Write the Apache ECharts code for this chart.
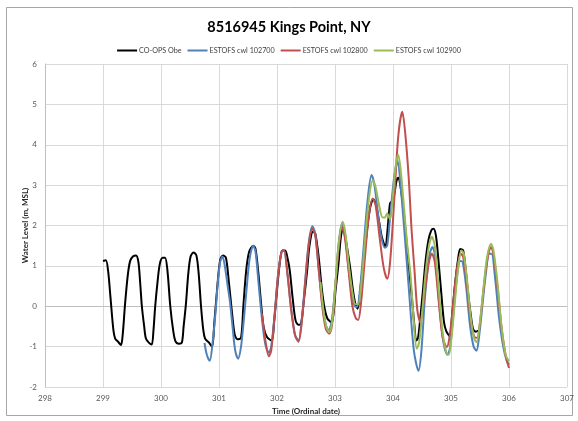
<!DOCTYPE html>
<html>
<head>
<meta charset="utf-8">
<script src="https://cdn.jsdelivr.net/npm/echarts@6/dist/echarts.min.js"></script>
<style>
  html, body { margin: 0; padding: 0; background: #fff; }
  #chart { width: 578px; height: 421px; }
</style>
</head>
<body>
<div id="chart"></div>
<script>
// x = ordinal date, y = water level (m, MSL)
const seriesNames = ['CO-OPS Obe', 'ESTOFS cwl 102700', 'ESTOFS cwl 102800', 'ESTOFS cwl 102900'];
const seriesColors = ['#000000', '#4F81BD', '#C0504D', '#9BBB59'];

const obs = [
  [299.00,1.12],[299.05,1.14],[299.09,0.85],[299.13,0.2],[299.18,-0.6],[299.21,-0.8],[299.26,-0.88],[299.31,-0.96],
  [299.34,-0.7],[299.38,0.05],[299.43,0.8],[299.47,1.13],[299.52,1.24],[299.57,1.26],[299.61,1.1],[299.64,0.6],
  [299.67,0.0],[299.71,-0.5],[299.74,-0.8],[299.79,-0.9],[299.84,-0.95],[299.87,-0.6],[299.90,0.0],[299.94,0.6],
  [299.98,1.05],[300.03,1.2],[300.07,1.2],[300.11,0.9],[300.16,0.0],[300.21,-0.6],[300.25,-0.87],[300.31,-0.93],
  [300.36,-0.9],[300.39,-0.5],[300.43,0.06],[300.47,0.8],[300.51,1.23],[300.56,1.33],[300.61,1.26],[300.65,0.8],
  [300.69,0.0],[300.73,-0.6],[300.76,-0.8],[300.82,-0.89],[300.88,-1.0],[300.92,-0.4],[300.97,0.47],[301.02,1.15],
  [301.07,1.26],[301.12,1.2],[301.17,0.6],[301.22,-0.1],[301.27,-0.7],[301.32,-0.82],[301.38,-0.78],[301.42,0.0],
  [301.47,0.9],[301.52,1.35],[301.59,1.5],[301.63,1.42],[301.68,0.8],[301.73,0.0],[301.77,-0.52],[301.83,-0.77],
  [301.91,-0.85],[301.95,-0.4],[302.00,0.39],[302.05,1.1],[302.09,1.38],[302.14,1.38],[302.18,1.2],[302.22,0.89],
  [302.27,0.2],[302.32,-0.35],[302.37,-0.46],[302.41,-0.45],[302.46,0.1],[302.52,0.89],[302.56,1.5],[302.62,1.85],
  [302.66,1.8],[302.72,1.2],[302.77,0.47],[302.82,-0.05],[302.87,-0.31],[302.92,-0.38],[302.95,-0.4],[303.01,0.4],
  [303.06,1.05],[303.10,1.7],[303.14,1.95],[303.18,1.7],[303.26,0.97],[303.30,0.5],[303.35,0.06],[303.39,-0.06],
  [303.45,0.6],[303.52,1.47],[303.60,2.4],[303.66,2.65],[303.70,2.55],[303.76,2.1],[303.81,1.7],[303.87,1.47],
  [303.90,1.8],[303.93,2.3],[303.95,2.55],[303.98,2.6],[304.02,2.75],[304.06,3.1],[304.09,3.18],[304.13,2.96],
  [304.18,2.4],[304.24,1.5],[304.28,0.9],[304.33,0.14],[304.37,-0.5],[304.40,-0.85],[304.43,-0.8],[304.47,-0.3],
  [304.51,0.3],[304.56,1.1],[304.61,1.63],[304.66,1.88],[304.70,1.92],[304.74,1.75],[304.78,1.2],[304.84,0.2],
  [304.88,-0.4],[304.92,-0.62],[304.98,-0.75],[305.02,-0.2],[305.07,0.56],[305.12,1.15],[305.16,1.42],[305.21,1.38],
  [305.25,0.95],[305.29,0.39],[305.34,-0.2],[305.38,-0.56],[305.43,-0.63],[305.47,-0.6]
];

const cwl102700 = [
  [300.75,-0.91],[300.79,-1.2],[300.84,-1.35],[300.89,-0.9],[300.94,-0.15],[300.98,0.6],[301.02,1.1],[301.06,1.23],
  [301.10,1.0],[301.15,0.5],[301.19,0.1],[301.24,-0.6],[301.28,-1.1],[301.33,-1.3],[301.38,-1.0],[301.43,-0.3],
  [301.48,0.5],[301.53,1.2],[301.59,1.5],[301.63,1.35],[301.68,0.6],[301.74,-0.3],[301.80,-0.95],[301.86,-1.15],
  [301.90,-1.0],[301.96,-0.2],[302.02,0.8],[302.08,1.35],[302.12,1.38],[302.18,0.8],[302.24,0.0],[302.31,-0.7],
  [302.37,-0.85],[302.43,-0.3],[302.49,0.7],[302.55,1.6],[302.61,1.98],[302.66,1.8],[302.72,0.9],[302.78,0.1],
  [302.84,-0.45],[302.89,-0.6],[302.94,-0.4],[303.00,0.4],[303.06,1.5],[303.12,2.05],[303.17,1.8],[303.23,1.0],
  [303.29,0.3],[303.34,0.0],[303.38,-0.02],[303.43,0.4],[303.49,1.4],[303.56,2.6],[303.63,3.25],[303.68,3.0],
  [303.74,2.3],[303.80,1.7],[303.86,1.45],[303.90,1.5],[303.95,2.2],[304.02,3.2],[304.08,3.6],[304.13,3.0],
  [304.20,1.8],[304.28,0.3],[304.36,-1.1],[304.44,-1.6],[304.49,-1.1],[304.55,0.2],[304.62,1.2],[304.68,1.47],
  [304.73,1.2],[304.80,0.0],[304.87,-0.9],[304.94,-1.2],[304.98,-1.05],[305.04,-0.2],[305.10,0.7],[305.16,1.12],
  [305.20,1.1],[305.26,0.5],[305.33,-0.5],[305.39,-1.0],[305.44,-1.1],[305.48,-0.8],[305.54,0.0],[305.60,0.8],
  [305.66,1.3],[305.70,1.3],[305.76,0.7],[305.83,-0.3],[305.90,-1.0],[305.96,-1.35],[306.00,-1.45]
];

const cwl102800 = [
  [301.74,-0.18],[301.80,-0.85],[301.86,-1.24],[301.90,-1.1],[301.96,-0.2],[302.02,0.8],[302.08,1.35],[302.12,1.38],
  [302.18,0.8],[302.24,-0.05],[302.31,-0.72],[302.37,-0.88],[302.43,-0.35],[302.49,0.65],[302.55,1.55],[302.61,1.92],
  [302.66,1.75],[302.72,0.9],[302.78,0.0],[302.84,-0.55],[302.90,-0.68],[302.95,-0.45],[303.00,0.4],[303.06,1.4],
  [303.12,1.96],[303.17,1.7],[303.24,0.8],[303.30,0.0],[303.36,-0.3],[303.40,-0.34],[303.45,0.1],[303.51,1.1],
  [303.58,2.2],[303.65,2.67],[303.70,2.5],[303.77,1.7],[303.84,0.95],[303.90,0.68],[303.95,1.1],[304.02,2.6],
  [304.09,4.2],[304.16,4.82],[304.21,4.3],[304.27,3.2],[304.32,1.9],[304.37,0.9],[304.42,-0.1],[304.47,-0.4],
  [304.51,-0.1],[304.56,0.47],[304.62,1.1],[304.67,1.3],[304.72,1.1],[304.79,0.1],[304.86,-0.8],[304.93,-1.01],
  [304.98,-0.7],[305.04,0.1],[305.10,0.9],[305.17,1.3],[305.21,1.22],[305.27,0.6],[305.34,-0.35],[305.40,-0.75],
  [305.45,-0.78],[305.50,-0.4],[305.56,0.4],[305.63,1.2],[305.69,1.47],[305.73,1.3],[305.80,0.5],[305.87,-0.5],
  [305.94,-1.2],[306.00,-1.53]
];

const cwl102900 = [
  [302.75,0.6],[302.80,-0.1],[302.85,-0.5],[302.90,-0.64],[302.95,-0.4],[303.00,0.45],[303.06,1.5],[303.13,2.09],
  [303.18,1.8],[303.24,1.0],[303.30,0.35],[303.35,0.05],[303.40,0.05],[303.45,0.5],[303.51,1.5],[303.58,2.6],
  [303.65,3.12],[303.70,2.95],[303.76,2.5],[303.82,2.2],[303.86,2.2],[303.90,2.3],[303.95,2.15],[303.99,2.6],
  [304.04,3.4],[304.09,3.75],[304.13,3.4],[304.18,2.62],[304.24,1.6],[304.30,0.8],[304.36,-0.4],[304.41,-1.05],
  [304.45,-0.9],[304.50,-0.2],[304.56,0.8],[304.62,1.5],[304.67,1.72],[304.72,1.5],[304.79,0.4],[304.86,-0.7],
  [304.92,-1.15],[304.96,-1.2],[305.00,-0.9],[305.06,0.0],[305.12,0.9],[305.18,1.38],[305.22,1.3],[305.28,0.6],
  [305.35,-0.4],[305.40,-0.8],[305.44,-0.89],[305.49,-0.5],[305.55,0.3],[305.62,1.2],[305.69,1.55],[305.73,1.4],
  [305.80,0.6],[305.87,-0.5],[305.94,-1.2],[306.00,-1.36]
];

const seriesData = [obs, cwl102700, cwl102800, cwl102900];

const chart = echarts.init(document.getElementById('chart'));
const font = 'Lato, "Open Sans", sans-serif';

chart.setOption({
  animation: false,
  textStyle: { fontFamily: font },
  title: {
    text: '8516945 Kings Point, NY',
    left: 'center',
    top: 15,
    textStyle: { fontSize: 14.5, fontWeight: 'bold', color: '#000', fontFamily: font }
  },
  legend: {
    top: 42,
    left: 'center',
    icon: 'rect',
    itemWidth: 20,
    itemHeight: 2,
    itemGap: 6,
    textStyle: { fontSize: 7.2, color: '#404040', fontFamily: font, padding: [0, 0, 0, -3] },
    data: seriesNames
  },
  grid: { left: 45, right: 11, top: 64, bottom: 34 },
  xAxis: {
    type: 'value',
    min: 298,
    max: 307,
    interval: 1,
    name: 'Time (Ordinal date)',
    nameLocation: 'middle',
    nameGap: 20,
    nameMoveOverlap: false,
    nameTextStyle: { fontSize: 8, fontWeight: 'bold', color: '#262626' },
    axisLine: { lineStyle: { color: '#bfbfbf' } },
    axisTick: { show: false },
    axisLabel: { fontSize: 8, color: '#595959', margin: 7 },
    splitLine: { show: true, lineStyle: { color: '#d9d9d9' } }
  },
  yAxis: {
    type: 'value',
    min: -2,
    max: 6,
    interval: 1,
    name: 'Water Level (m, MSL)',
    nameLocation: 'middle',
    nameGap: 16,
    nameMoveOverlap: false,
    nameTextStyle: { fontSize: 8, fontWeight: 'bold', color: '#262626' },
    axisLine: { show: true, lineStyle: { color: '#bfbfbf' } },
    axisTick: { show: false },
    axisLabel: { fontSize: 8, color: '#595959', margin: 8 },
    splitLine: { show: true, lineStyle: { color: '#d9d9d9' } }
  },
  graphic: [{
    type: 'rect',
    shape: { x: 6.5, y: 7.5, width: 566, height: 408 },
    style: { fill: 'none', stroke: '#a6a6a6', lineWidth: 1 },
    silent: true,
    z: -1
  }],
  series: seriesNames.map((name, i) => ({
    name: name,
    type: 'line',
    data: seriesData[i],
    showSymbol: false,
    symbol: 'none',
    smooth: 0.3,
    lineStyle: { width: 2, color: seriesColors[i] },
    itemStyle: { color: seriesColors[i] }
  }))
});
</script>
</body>
</html>
